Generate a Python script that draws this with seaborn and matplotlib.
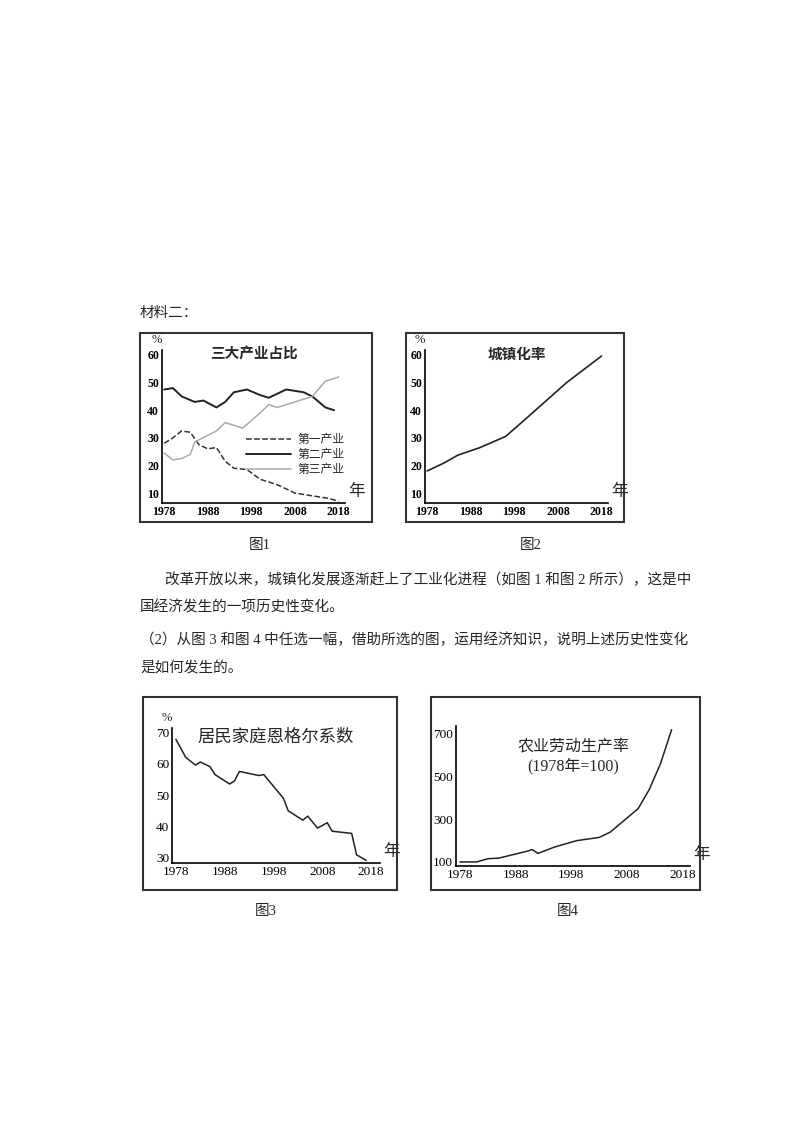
import matplotlib
matplotlib.use("Agg")
import matplotlib.pyplot as plt
import seaborn as sns
from matplotlib.patches import Rectangle

sns.set_theme(style="white")
plt.rcParams['font.family'] = ['Liberation Serif', 'Noto Sans CJK SC', 'DejaVu Sans']

# chart 1: share of three industries (%)
years_primary = [1978, 1980, 1982, 1984, 1986, 1988, 1990, 1992, 1994, 1997, 2000, 2004, 2008, 2012, 2016, 2018]
primary = [28, 30, 32.5, 32, 27.5, 26, 26.5, 21.5, 19, 18.5, 15, 13, 10, 9, 8, 7]
years_secondary = [1978, 1980, 1982, 1985, 1987, 1990, 1992, 1994, 1997, 2000, 2002, 2006, 2010, 2012, 2015, 2017]
secondary = [47.5, 48, 45, 43, 43.5, 41, 43, 46.5, 47.5, 45.5, 44.5, 47.5, 46.5, 45, 41, 40]
years_tertiary = [1978, 1980, 1982, 1984, 1985, 1990, 1992, 1996, 2000, 2002, 2004, 2008, 2012, 2015, 2018]
tertiary = [24.5, 22, 22.5, 24, 28.5, 32.5, 35.5, 33.5, 39, 42, 41, 43, 45, 50.5, 52]

# chart 2: urbanization rate (%)
years_urban = [1978, 1982, 1985, 1990, 1996, 2000, 2005, 2010, 2015, 2018]
urban = [18, 21, 23.7, 26.4, 30.5, 36, 43, 50, 56, 59.6]

# chart 3: Engel coefficient (%)
years_engel = [1978, 1980, 1982, 1983, 1985, 1986, 1988, 1989, 1990, 1991, 1995, 1996, 2000, 2001, 2004,
               2005, 2007, 2009, 2010, 2014, 2015, 2017]
engel = [67.7, 62, 59.5, 60.5, 59, 56.5, 54.5, 53.5, 54.5, 57.5, 56.2, 56.5, 49, 45, 42,
         43.3, 39.5, 41.2, 38.5, 37.8, 31, 29.2]

# chart 4: agricultural labour productivity (1978=100)
years_agri = [1978, 1981, 1983, 1985, 1990, 1991, 1992, 1995, 1999, 2003, 2005, 2010, 2012, 2014, 2016]
agri = [100, 100, 115, 118, 150, 158, 140, 170, 200, 215, 240, 350, 440, 560, 720]

year_ticks = [1978, 1988, 1998, 2008, 2018]

W, H = 800, 1132
fig = plt.figure(figsize=(8, 11.32), dpi=100)
fig.patch.set_facecolor('white')


def px_axes(x0, y0, x1, y1):
    return fig.add_axes([x0 / W, 1 - y1 / H, (x1 - x0) / W, (y1 - y0) / H])


def frame(x0, y0, x1, y1, lw=1.5):
    fig.patches.append(Rectangle((x0 / W, 1 - y1 / H), (x1 - x0) / W, (y1 - y0) / H,
                                 transform=fig.transFigure, fill=False, ec='#333333', lw=lw))


def style(ax, xlim, ylim, yticks, bold=False, fs=9, pct=True):
    ax.set_xlim(*xlim)
    ax.set_ylim(*ylim)
    ax.set_facecolor('none')
    for s in ['top', 'right']:
        ax.spines[s].set_visible(False)
    for s in ['left', 'bottom']:
        ax.spines[s].set_color('black')
        ax.spines[s].set_linewidth(1.2)
    ax.set_xticks(year_ticks)
    ax.set_yticks(yticks)
    ax.tick_params(direction='in', length=3, width=1, labelsize=fs, pad=2, colors='black')
    for lab in ax.get_xticklabels() + ax.get_yticklabels():
        lab.set_fontweight('bold' if bold else 'normal')
    ax.set_xlabel('')
    ax.set_ylabel('')
    if pct:
        ax.annotate('%', (0, 1), xycoords='axes fraction', xytext=(-4, 3), textcoords='offset points',
                    fontsize=9, ha='center', va='bottom')
    ax.annotate('年', (1, 0), xycoords='axes fraction', xytext=(2, 2), textcoords='offset points',
                fontsize=12, ha='left', va='bottom')


fig.text(140 / W, 1 - 313 / H, '材料二：', fontsize=10.5, va='center')

# chart 1
frame(140, 333, 372, 522)
ax1 = px_axes(162, 350, 345, 503)
sns.lineplot(x=years_primary, y=primary, ax=ax1, color='#333333', lw=1.1, linestyle='--', label='第一产业')
sns.lineplot(x=years_secondary, y=secondary, ax=ax1, color='#222222', lw=1.4, label='第二产业')
sns.lineplot(x=years_tertiary, y=tertiary, ax=ax1, color='#aaaaaa', lw=1.1, label='第三产业')
style(ax1, (1977.5, 2019.5), (6.4, 61.8), [10, 20, 30, 40, 50, 60], bold=True, fs=8.5)
ax1.legend(loc='lower right', bbox_to_anchor=(1.04, 0.12), frameon=False, fontsize=8.5,
           handlelength=3.8, labelspacing=0.25, borderpad=0.2, handletextpad=0.5)
ax1.set_title('三大产业占比', fontsize=10.5, fontweight='bold', pad=-6, y=1.0)

# chart 2
frame(406, 333, 624, 522)
ax2 = px_axes(425, 350, 608, 503)
sns.lineplot(x=years_urban, y=urban, ax=ax2, color='#222222', lw=1.2)
style(ax2, (1977.5, 2019.5), (6.4, 61.8), [10, 20, 30, 40, 50, 60], bold=True, fs=8.5)
ax2.set_title('城镇化率', fontsize=10.5, fontweight='bold', pad=-6, y=1.0)

fig.text(260 / W, 1 - 545 / H, '图1', fontsize=10.5, ha='center', va='center')
fig.text(531 / W, 1 - 545 / H, '图2', fontsize=10.5, ha='center', va='center')

body = [
    (165, 580, '改革开放以来，城镇化发展逐渐赶上了工业化进程（如图 1 和图 2 所示），这是中'),
    (140, 607, '国经济发生的一项历史性变化。'),
    (140, 640, '（2）从图 3 和图 4 中任选一幅，借助所选的图，运用经济知识，说明上述历史性变化'),
    (140, 668, '是如何发生的。'),
]
for x, y, t in body:
    fig.text(x / W, 1 - y / H, t, fontsize=10.5, va='center')

# chart 3
frame(143, 697, 397, 890)
ax3 = px_axes(172, 728, 380, 863)
sns.lineplot(x=years_engel, y=engel, ax=ax3, color='#222222', lw=1.1)
style(ax3, (1977.2, 2019.8), (28.4, 71.3), [30, 40, 50, 60, 70], fs=9.5)
ax3.set_title('居民家庭恩格尔系数', fontsize=12.5, pad=-10, y=1.0)

# chart 4
frame(431, 697, 700, 890)
ax4 = px_axes(456, 726, 690, 866)
sns.lineplot(x=years_agri, y=agri, ax=ax4, color='#222222', lw=1.1)
style(ax4, (1977.3, 2019.3), (81, 737), [100, 300, 500, 700], fs=9.5, pct=False)
ax4.set_title('农业劳动生产率\n(1978年=100)', fontsize=11.5, pad=-32, y=1.0, linespacing=1.2)

fig.text(266 / W, 1 - 912 / H, '图3', fontsize=10.5, ha='center', va='center')
fig.text(568 / W, 1 - 912 / H, '图4', fontsize=10.5, ha='center', va='center')

fig.savefig('out.png', dpi=100, facecolor='white')
